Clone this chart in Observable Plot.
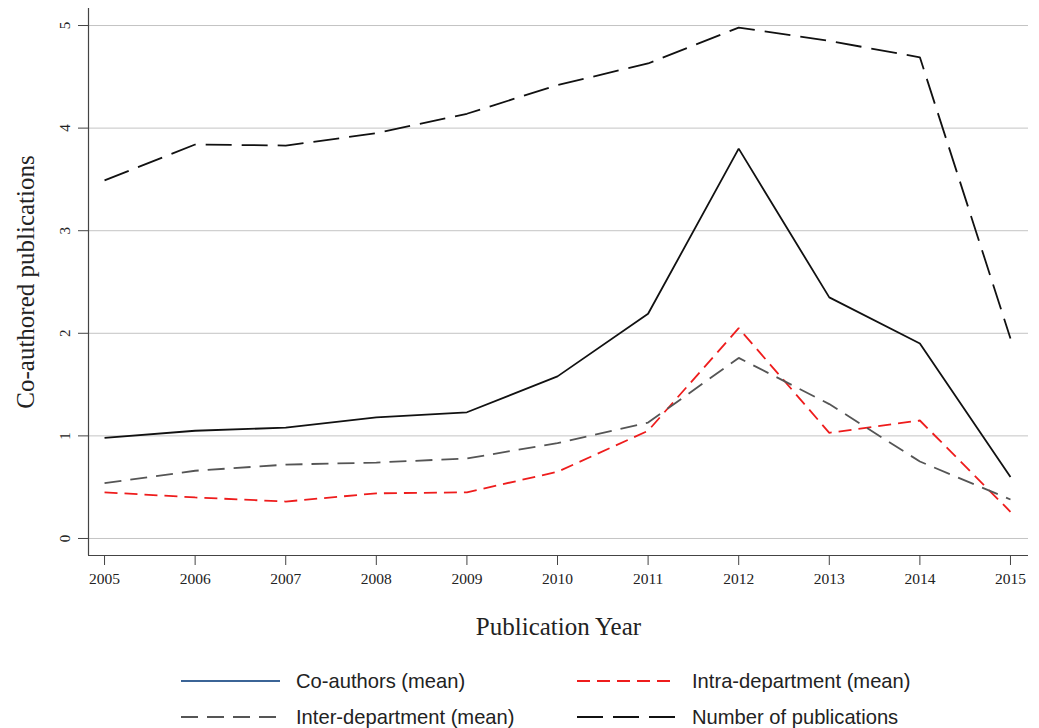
<!DOCTYPE html>
<html>
<head>
<meta charset="utf-8">
<script src="https://cdn.jsdelivr.net/npm/d3@7"></script>
<script src="https://cdn.jsdelivr.net/npm/@observablehq/plot@0.6"></script>
<style>
  html, body { margin: 0; padding: 0; background: #fff; }
  #wrap { position: relative; width: 1039px; height: 728px; }
  #legend { position: absolute; left: 0; top: 650px; width: 1039px; height: 78px;
            font-family: "Liberation Sans", sans-serif; font-size: 21px; color: #222; }
  .item { position: absolute; display: flex; align-items: center; height: 30px; }
  .item svg { margin-right: 16px; }
  .item span { display: inline-block; transform: scaleX(0.96); transform-origin: left center; }
</style>
</head>
<body>
<div id="wrap">
  <div id="chart"></div>
  <div id="legend"></div>
</div>
<script>
const years = [2005, 2006, 2007, 2008, 2009, 2010, 2011, 2012, 2013, 2014, 2015];
const coauthors = [0.98, 1.05, 1.08, 1.18, 1.23, 1.58, 2.19, 3.80, 2.35, 1.90, 0.60];
const intra = [0.45, 0.40, 0.36, 0.44, 0.45, 0.65, 1.05, 2.05, 1.03, 1.15, 0.26];
const inter = [0.54, 0.66, 0.72, 0.74, 0.78, 0.93, 1.13, 1.76, 1.31, 0.75, 0.38];
const pubs = [3.49, 3.84, 3.83, 3.95, 4.14, 4.42, 4.63, 4.98, 4.85, 4.69, 1.95];
const yTicks = [0, 1, 2, 3, 4, 5];
const seriesNames = ["Co-authors (mean)", "Intra-department (mean)", "Inter-department (mean)", "Number of publications"];

const series = [
  {name: seriesNames[0], values: coauthors, stroke: "#111", dash: null, legendStroke: "#3b6496"},
  {name: seriesNames[1], values: intra, stroke: "#ee1c1c", dash: "13,7", legendStroke: "#ee1c1c"},
  {name: seriesNames[2], values: inter, stroke: "#555", dash: "17,9", legendStroke: "#555"},
  {name: seriesNames[3], values: pubs, stroke: "#111", dash: "26,10", legendStroke: "#111"}
];
const table = s => years.map((y, i) => ({year: y, value: s.values[i]}));

const xDomain = [2004.823, 2015.199];
const yDomain = [-0.166, 5.166];
const serif = "'Liberation Serif', 'DejaVu Serif', serif";

const plot = Plot.plot({
  width: 1039,
  height: 650,
  marginLeft: 88,
  marginRight: 11,
  marginTop: 8,
  marginBottom: 95,
  style: {fontFamily: serif, background: "#fff", color: "#222"},
  x: {domain: xDomain, axis: null},
  y: {domain: yDomain, axis: null},
  marks: [
    Plot.ruleY(yTicks, {stroke: "#c4c4c4", strokeWidth: 1}),
    Plot.ruleX([xDomain[0]], {stroke: "#444", strokeWidth: 1.2}),
    Plot.ruleY([yDomain[0]], {stroke: "#444", strokeWidth: 1.2}),
    Plot.axisY({ticks: yTicks, tickSize: 10, tickFormat: () => "", label: null, stroke: "#444"}),
    Plot.text(yTicks, {y: d => d, frameAnchor: "left", dx: -23, rotate: -90, text: d => String(d),
      fontSize: 15, fill: "#222", textAnchor: "middle"}),
    Plot.axisX({ticks: years, tickSize: 10, tickPadding: 7, tickFormat: d => String(d), fontSize: 15.5,
      label: null, stroke: "#444", fill: "#222"}),
    Plot.text(["Publication Year"], {frameAnchor: "bottom", dy: 79, fontSize: 25, fill: "#222", textAnchor: "middle"}),
    Plot.text(["Co-authored publications"], {frameAnchor: "left", dx: -63, rotate: -90, fontSize: 25, fill: "#222", textAnchor: "middle"}),
    ...series.map(s => Plot.line(table(s), {x: "year", y: "value", stroke: s.stroke, strokeWidth: 1.8,
      strokeDasharray: s.dash ?? undefined, strokeLinecap: "butt", strokeLinejoin: "miter"}))
  ]
});
document.getElementById("chart").appendChild(plot);

const legend = document.getElementById("legend");
const pos = [[181, 16], [577, 16], [181, 52], [577, 52]];
series.forEach((s, i) => {
  const div = document.createElement("div");
  div.className = "item";
  div.style.left = pos[i][0] + "px";
  div.style.top = pos[i][1] + "px";
  div.innerHTML = `<svg width="99" height="6"><line x1="0" y1="3" x2="99" y2="3" stroke="${s.legendStroke}" stroke-width="2" ${s.dash ? `stroke-dasharray="${s.dash}"` : ""}/></svg><span>${s.name}</span>`;
  legend.appendChild(div);
});
</script>
</body>
</html>
